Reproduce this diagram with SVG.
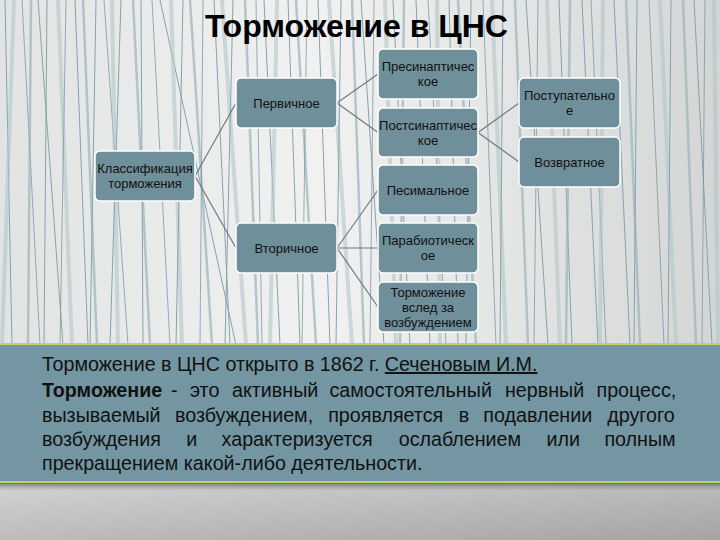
<svg xmlns="http://www.w3.org/2000/svg" width="720" height="540" viewBox="0 0 720 540">
<defs>
<linearGradient id="bgTop" x1="0" y1="0" x2="1" y2="0">
<stop offset="0" stop-color="#e2e4e4"/><stop offset="0.45" stop-color="#f1f1f1"/><stop offset="1" stop-color="#d4d6d6"/>
</linearGradient>
<linearGradient id="bgBot" x1="0" y1="0" x2="1" y2="1">
<stop offset="0" stop-color="#d3d3d3"/><stop offset="1" stop-color="#a4a4a4"/>
</linearGradient>
<linearGradient id="shadow" x1="0" y1="0" x2="0" y2="1">
<stop offset="0" stop-color="#5e6a6e" stop-opacity="0.8"/><stop offset="1" stop-color="#888" stop-opacity="0"/>
</linearGradient>
<style>
.g1{stroke:#86a3ab;stroke-width:1;fill:none}
.g2{stroke:#9bb4bb;stroke-width:2.5;opacity:.7;fill:none}
.g3{stroke:#b3c6ca;stroke-width:4;opacity:.6;fill:none}
.g4{stroke:#7894a0;stroke-width:1;opacity:.75;fill:none}
.node rect{fill:#6f8f9a;stroke:#ffffff;stroke-width:1.5}
.node text{font-family:"Liberation Sans",Arial,sans-serif;font-size:13px;fill:#111;text-anchor:middle}
.conn line{stroke:#6f7a7e;stroke-width:1.2}
.body{font-family:"Liberation Sans",Arial,sans-serif;font-size:19.7px;fill:#111}
</style>
</defs>

<rect x="0" y="0" width="720" height="345" fill="url(#bgTop)"/>
<g id="background-lines">
<line class="g1" x1="5" y1="0" x2="12" y2="345"/>
<line class="g3" x1="14" y1="0" x2="2" y2="345"/>
<line class="g4" x1="22" y1="0" x2="40" y2="345"/>
<line class="g2" x1="31" y1="0" x2="28" y2="345"/>
<line class="g1" x1="38" y1="0" x2="63" y2="345"/>
<line class="g1" x1="47" y1="0" x2="44" y2="345"/>
<line class="g3" x1="58" y1="0" x2="72" y2="345"/>
<line class="g4" x1="66" y1="0" x2="60" y2="345"/>
<line class="g1" x1="75" y1="0" x2="88" y2="345"/>
<line class="g2" x1="83" y1="0" x2="97" y2="345"/>
<line class="g1" x1="96" y1="0" x2="90" y2="345"/>
<line class="g4" x1="104" y1="0" x2="128" y2="345"/>
<line class="g3" x1="112" y1="0" x2="118" y2="345"/>
<line class="g1" x1="121" y1="0" x2="110" y2="345"/>
<line class="g2" x1="133" y1="0" x2="150" y2="345"/>
<line class="g1" x1="141" y1="0" x2="143" y2="345"/>
<line class="g4" x1="152" y1="0" x2="170" y2="345"/>
<line class="g1" x1="160" y1="0" x2="236" y2="345"/>
<line class="g3" x1="171" y1="0" x2="182" y2="345"/>
<line class="g1" x1="183" y1="0" x2="176" y2="345"/>
<line class="g2" x1="190" y1="0" x2="212" y2="345"/>
<line class="g4" x1="203" y1="0" x2="200" y2="345"/>
<line class="g1" x1="214" y1="0" x2="230" y2="345"/>
<line class="g3" x1="222" y1="0" x2="246" y2="345"/>
<line class="g1" x1="233" y1="0" x2="225" y2="345"/>
<line class="g2" x1="245" y1="0" x2="258" y2="345"/>
<line class="g4" x1="256" y1="0" x2="262" y2="345"/>
<line class="g1" x1="264" y1="0" x2="280" y2="345"/>
<line class="g3" x1="277" y1="0" x2="270" y2="345"/>
<line class="g1" x1="288" y1="0" x2="300" y2="345"/>
<line class="g2" x1="296" y1="0" x2="316" y2="345"/>
<line class="g4" x1="307" y1="0" x2="302" y2="345"/>
<line class="g1" x1="318" y1="0" x2="330" y2="345"/>
<line class="g3" x1="329" y1="0" x2="352" y2="345"/>
<line class="g1" x1="341" y1="0" x2="336" y2="345"/>
<line class="g2" x1="352" y1="0" x2="364" y2="345"/>
<line class="g1" x1="361" y1="0" x2="384" y2="345"/>
<line class="g4" x1="374" y1="0" x2="370" y2="345"/>
<line class="g3" x1="385" y1="0" x2="396" y2="345"/>
<line class="g1" x1="393" y1="0" x2="410" y2="345"/>
<line class="g2" x1="404" y1="0" x2="400" y2="345"/>
<line class="g1" x1="416" y1="0" x2="430" y2="345"/>
<line class="g4" x1="428" y1="0" x2="446" y2="345"/>
<line class="g3" x1="437" y1="0" x2="440" y2="345"/>
<line class="g1" x1="449" y1="0" x2="458" y2="345"/>
<line class="g2" x1="458" y1="0" x2="476" y2="345"/>
<line class="g1" x1="471" y1="0" x2="466" y2="345"/>
<line class="g4" x1="483" y1="0" x2="496" y2="345"/>
<line class="g3" x1="492" y1="0" x2="506" y2="345"/>
<line class="g1" x1="503" y1="0" x2="500" y2="345"/>
<line class="g2" x1="515" y1="0" x2="528" y2="345"/>
<line class="g1" x1="526" y1="0" x2="548" y2="345"/>
<line class="g4" x1="538" y1="0" x2="534" y2="345"/>
<line class="g3" x1="547" y1="0" x2="560" y2="345"/>
<line class="g1" x1="559" y1="0" x2="572" y2="345"/>
<line class="g2" x1="570" y1="0" x2="566" y2="345"/>
<line class="g1" x1="582" y1="0" x2="598" y2="345"/>
<line class="g4" x1="591" y1="0" x2="606" y2="345"/>
<line class="g3" x1="603" y1="0" x2="600" y2="345"/>
<line class="g1" x1="614" y1="0" x2="630" y2="345"/>
<line class="g2" x1="626" y1="0" x2="640" y2="345"/>
<line class="g1" x1="637" y1="0" x2="634" y2="345"/>
<line class="g4" x1="649" y1="0" x2="664" y2="345"/>
<line class="g3" x1="660" y1="0" x2="676" y2="345"/>
<line class="g1" x1="671" y1="0" x2="668" y2="345"/>
<line class="g2" x1="683" y1="0" x2="696" y2="345"/>
<line class="g1" x1="694" y1="0" x2="712" y2="345"/>
<line class="g4" x1="705" y1="0" x2="702" y2="345"/>
<line class="g3" x1="714" y1="0" x2="718" y2="345"/>
</g>

<rect x="0" y="343" width="720" height="141" fill="#7396a2"/>
<rect x="0" y="343" width="720" height="2" fill="#c9cc6a"/>
<rect x="0" y="481" width="720" height="2" fill="#c9cc6a"/>
<rect x="0" y="484" width="720" height="56" fill="url(#bgBot)"/>
<rect x="0" y="483" width="720" height="8" fill="url(#shadow)"/>

<text x="205" y="37" font-family="'Liberation Sans',Arial,sans-serif" font-size="31" font-weight="bold" fill="#000" textLength="303" lengthAdjust="spacingAndGlyphs">Торможение в ЦНС</text>

<g id="connectors" class="conn">
<line x1="195" y1="176" x2="236" y2="103"/>
<line x1="195" y1="176" x2="236" y2="248"/>
<line x1="337" y1="103" x2="378" y2="74"/>
<line x1="337" y1="103" x2="378" y2="132.5"/>
<line x1="478" y1="132.5" x2="519" y2="103"/>
<line x1="478" y1="132.5" x2="519" y2="162"/>
<line x1="337" y1="248" x2="378" y2="190"/>
<line x1="337" y1="248" x2="378" y2="248"/>
<line x1="337" y1="248" x2="378" y2="307"/>
</g>

<g id="n-root" class="node"><rect x="95" y="151" width="100" height="50" rx="5"/><text x="145" y="173">Классификация</text><text x="145" y="188">торможения</text></g>
<g id="n-primary" class="node"><rect x="236" y="78" width="101" height="50" rx="5"/><text x="286.5" y="107.5">Первичное</text></g>
<g id="n-secondary" class="node"><rect x="236" y="223" width="101" height="50" rx="5"/><text x="286.5" y="252.5">Вторичное</text></g>
<g id="n-presyn" class="node"><rect x="378" y="49" width="100" height="50" rx="5"/><text x="428" y="71">Пресинаптичес</text><text x="428" y="86">кое</text></g>
<g id="n-postsyn" class="node"><rect x="378" y="108" width="100" height="49" rx="5"/><text x="428" y="129.5">Постсинаптичес</text><text x="428" y="144.5">кое</text></g>
<g id="n-pesimal" class="node"><rect x="378" y="165" width="100" height="50" rx="5"/><text x="428" y="194.5">Песимальное</text></g>
<g id="n-parabiotic" class="node"><rect x="378" y="223" width="100" height="50" rx="5"/><text x="428" y="245">Парабиотическ</text><text x="428" y="260">ое</text></g>
<g id="n-after" class="node"><rect x="378" y="282" width="100" height="50" rx="5"/><text x="428" y="296.5">Торможение</text><text x="428" y="311.5">вслед за</text><text x="428" y="326.5">возбуждением</text></g>
<g id="n-progressive" class="node"><rect x="519" y="78" width="101" height="50" rx="5"/><text x="569.5" y="100">Поступательно</text><text x="569.5" y="115">е</text></g>
<g id="n-return" class="node"><rect x="519" y="137" width="101" height="50" rx="5"/><text x="569.5" y="166.5">Возвратное</text></g>

<g id="text-panel">
<text class="body" x="42" y="371">Торможение в ЦНС открыто в 1862 г. <tspan text-decoration="underline">Сеченовым И.М.</tspan></text>
<text class="body" y="397"><tspan x="42" font-weight="bold">Торможение</tspan><tspan x="171">-</tspan><tspan x="190">это</tspan><tspan x="232">активный</tspan><tspan x="329.5">самостоятельный</tspan><tspan x="505">нервный</tspan><tspan x="596.5">процесс,</tspan></text>
<text class="body" y="422"><tspan x="42">вызываемый</tspan><tspan x="175">возбуждением,</tspan><tspan x="328.2">проявляется</tspan><tspan x="458.7">в</tspan><tspan x="483.3">подавлении</tspan><tspan x="607.3">другого</tspan></text>
<text class="body" y="446"><tspan x="42">возбуждения</tspan><tspan x="186.2">и</tspan><tspan x="221.6">характеризуется</tspan><tspan x="398.7">ослаблением</tspan><tspan x="546.5">или</tspan><tspan x="604.4">полным</tspan></text>
<text class="body" x="42" y="470">прекращением какой-либо деятельности.</text>
</g>
</svg>
